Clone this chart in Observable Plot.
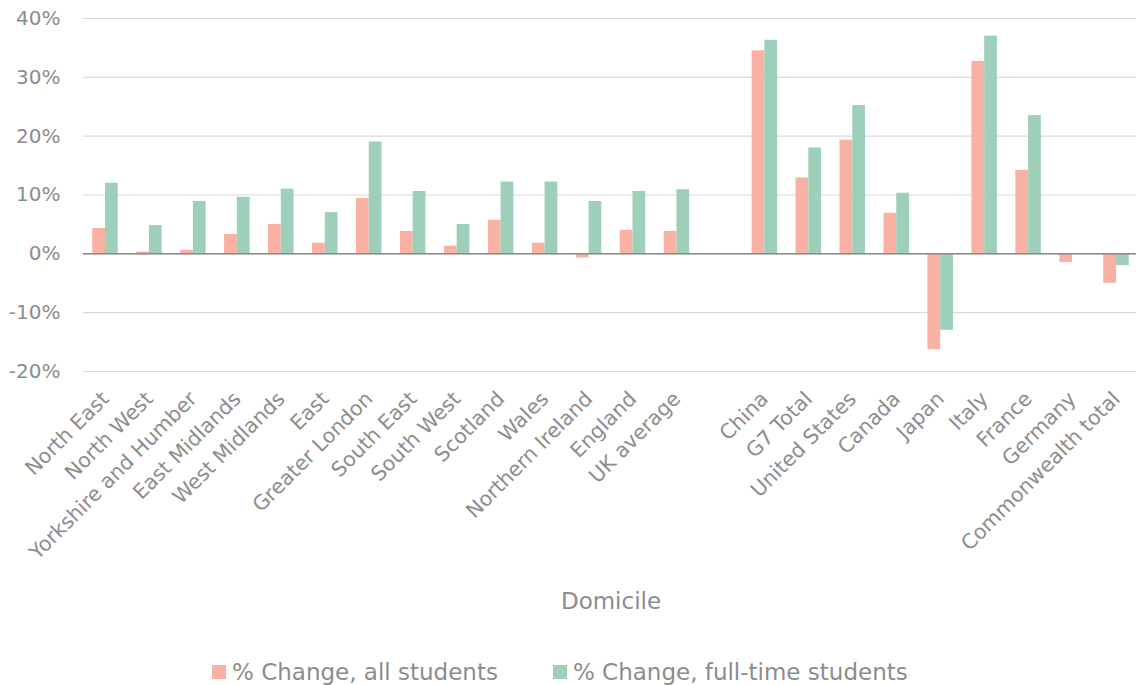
<!DOCTYPE html>
<html>
<head>
<meta charset="utf-8">
<script src="https://cdn.jsdelivr.net/npm/d3@7"></script>
<script src="https://cdn.jsdelivr.net/npm/@observablehq/plot@0.6"></script>
<style>
  html, body { margin: 0; padding: 0; background: #fff; overflow: hidden; }
  body { font-family: "DejaVu Sans", sans-serif; color: #8c8c8c; }
  #chart svg { max-width: none !important; }
  #legend { display: flex; align-items: center; margin-left: 212px; margin-top: 18px; height: 28px; font-size: 23px; }
  .item { display: flex; align-items: center; margin-right: 55px; }
  .swatch { width: 14px; height: 14px; margin-right: 6px; }
</style>
</head>
<body>
<div id="chart"></div>
<div id="legend"></div>
<script>
// Domiciles: UK regions, then a blank spacer slot, then international groups
const ukRegions = ["North East", "North West", "Yorkshire and Humber", "East Midlands", "West Midlands", "East",
  "Greater London", "South East", "South West", "Scotland", "Wales", "Northern Ireland", "England", "UK average"];
const international = ["China", "G7 Total", "United States", "Canada", "Japan", "Italy", "France", "Germany", "Commonwealth total"];
const spacer = " ";

// % change per domicile
const ukAll = [4.3, 0.3, 0.6, 3.3, 5.0, 1.8, 9.4, 3.8, 1.3, 5.7, 1.8, -0.7, 4.0, 3.8];
const ukFullTime = [12.0, 4.8, 8.9, 9.6, 11.0, 7.0, 19.0, 10.6, 5.0, 12.2, 12.2, 8.9, 10.6, 10.9];
const intlAll = [34.5, 12.9, 19.3, 6.9, -16.3, 32.7, 14.2, -1.5, -5.0];
const intlFullTime = [36.3, 18.0, 25.2, 10.3, -13.0, 37.0, 23.5, 0, -2.0];

const seriesNames = ["% Change, all students", "% Change, full-time students"];
const seriesColors = ["#f8b1a2", "#9ed0b9"];
const yTicks = [-20, -10, 0, 10, 20, 30, 40];

const domain = [...ukRegions, spacer, ...international];
const rows = [
  ...ukRegions.map((d, i) => ({domicile: d, all: ukAll[i], fullTime: ukFullTime[i]})),
  ...international.map((d, i) => ({domicile: d, all: intlAll[i], fullTime: intlFullTime[i]}))
];

const width = 1138, height = 640;
const marginLeft = 83, marginRight = 0, marginTop = 18, marginBottom = 269;
const padInner = 0.42;
// each band holds a pair of bars side by side
const step = (width - marginLeft - marginRight) / domain.length;
const half = step * (1 - padInner) / 2;
const textColor = "#8c8c8c";

const chart = Plot.plot({
  width, height, marginLeft, marginRight, marginTop, marginBottom,
  style: {fontFamily: "DejaVu Sans, sans-serif", color: textColor, background: "#fff"},
  x: {domain, paddingInner: padInner, paddingOuter: padInner / 2, round: false},
  y: {domain: [-20, 40]},
  marks: [
    Plot.gridY(yTicks, {stroke: "#d9d9d9", strokeOpacity: 1, strokeWidth: 1.2}),
    Plot.barY(rows, {x: "domicile", y: "all", fill: seriesColors[0], insetRight: half}),
    Plot.barY(rows, {x: "domicile", y: "fullTime", fill: seriesColors[1], insetLeft: half}),
    Plot.ruleY([0], {stroke: "#8a8a8a", strokeWidth: 1.5}),
    Plot.ruleX([0], {frameAnchor: "left", y1: -20, y2: 40, stroke: "#a3a3a3", strokeWidth: 1.5}),
    Plot.axisY(yTicks, {tickSize: 0, tickPadding: 23, fontSize: 20, tickFormat: d => d + "%", label: null}),
    Plot.axisX({tickSize: 0, tickPadding: 24, tickRotate: -45, fontSize: 20.5,
      tickFormat: d => d === spacer ? "" : d,
      label: "Domicile", labelAnchor: "center", labelOffset: 237})
  ]
});
chart.querySelectorAll("[aria-label='x-axis label']").forEach(el => el.setAttribute("font-size", 23));
document.getElementById("chart").append(chart);

const legend = d3.select("#legend");
seriesNames.forEach((name, i) => {
  const item = legend.append("div").attr("class", "item");
  item.append("div").attr("class", "swatch").style("background", seriesColors[i]);
  item.append("span").text(name);
});
</script>
</body>
</html>
